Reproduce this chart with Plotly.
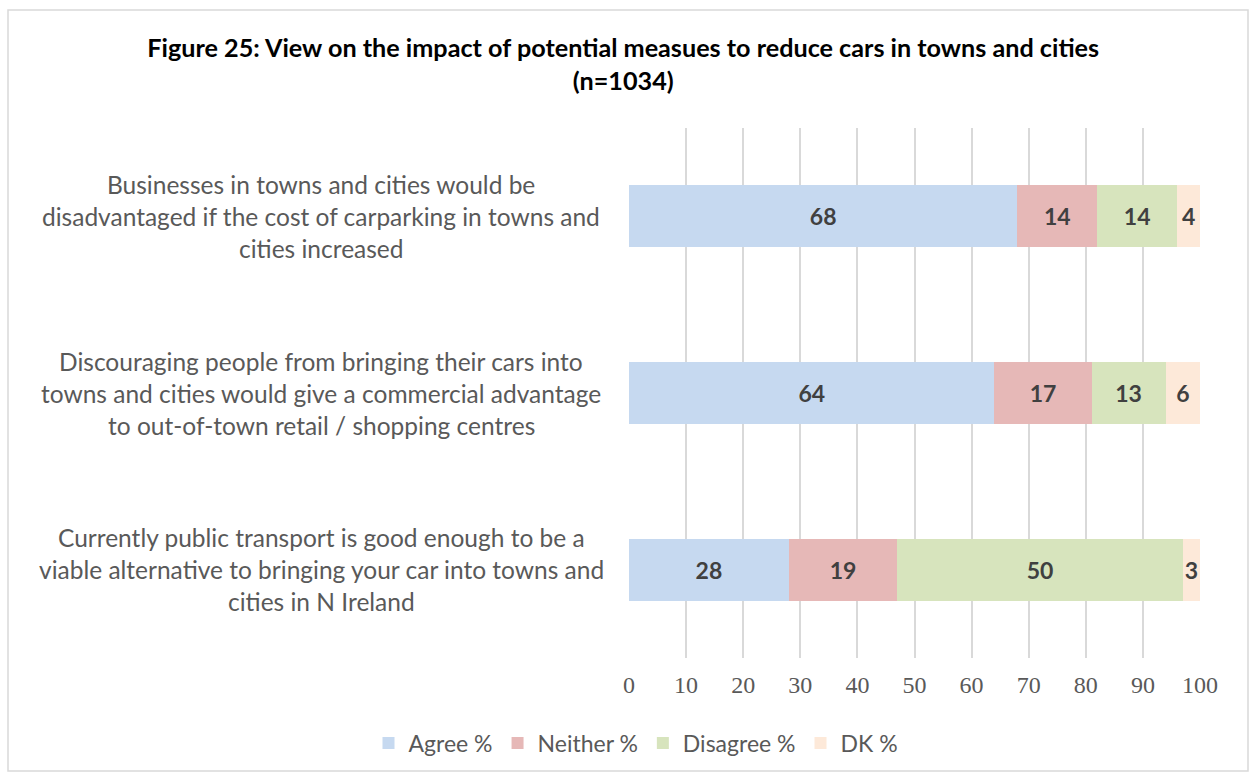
import plotly.graph_objects as go

# Survey statements (bottom to top as drawn on the y axis)
statements = [
    "Currently public transport is good enough to be a<br>viable alternative to bringing your car into towns and<br>cities in N Ireland",
    "Discouraging people from bringing their cars into<br>towns and cities would give a commercial advantage<br>to out-of-town retail / shopping centres",
    "Businesses in towns and cities would be<br>disadvantaged if the cost of carparking in towns and<br>cities increased",
]
agree = [28, 64, 68]
neither = [19, 17, 14]
disagree = [50, 13, 14]
dont_know = [3, 6, 4]

series = [
    ("Agree %", agree, "#C6D9F0"),
    ("Neither %", neither, "#E6B8B7"),
    ("Disagree %", disagree, "#D7E4BD"),
    ("DK %", dont_know, "#FDE9D9"),
]

x_ticks = list(range(0, 101, 10))

W, H = 1254, 776
L, R, T, B = 629, 1200, 128, 658


def px_to_paper_x(px):
    return (px - L) / (R - L)


def px_to_paper_y(py):
    return (B - py) / (B - T)


fig = go.Figure()
for name, vals, color in series:
    fig.add_trace(go.Bar(
        y=statements, x=vals, name=name, orientation="h",
        marker=dict(color=color, line=dict(width=0)),
        text=[str(v) for v in vals], textposition="inside",
        insidetextanchor="middle", constraintext="none",
        textfont=dict(family="Lato", size=23, color="#404040", weight="bold"),
        cliponaxis=False,
    ))

# Category labels as centred multi-line text blocks left of the plot
for s in statements:
    lines = s.split("<br>")
    n = len(lines)
    for i, ln in enumerate(lines):
        fig.add_annotation(
            x=px_to_paper_x(321), y=s, xref="paper", yref="y",
            text=ln, showarrow=False, xanchor="center", align="center",
            yshift=(n - 1) / 2 * 32 - i * 32,
            font=dict(family="Lato", size=24.5, color="#595959"),
        )

# Outer chart frame
fig.add_shape(type="rect", xref="paper", yref="paper",
              x0=px_to_paper_x(8), x1=px_to_paper_x(1248),
              y0=px_to_paper_y(771), y1=px_to_paper_y(10),
              line=dict(color="#D9D9D9", width=1.5), fillcolor="rgba(0,0,0,0)",
              layer="below")

fig.update_layout(
    width=W, height=H,
    margin=dict(l=L, r=W - R, t=T, b=H - B, autoexpand=False),
    barmode="stack", bargap=0.648,
    plot_bgcolor="white", paper_bgcolor="white",
    title=dict(
        text="<b>Figure 25: View on the impact of potential measues to reduce cars in towns and cities<br>(n=1034)</b>",
        x=0.497, xref="container", xanchor="center",
        y=1 - 57 / H, yref="container", yanchor="top",
        font=dict(family="Lato", size=25.2, color="#000000"),
    ),
    xaxis=dict(
        range=[0, 100], tickvals=x_ticks, ticktext=[str(v) for v in x_ticks],
        showgrid=True, gridcolor="#D9D9D9", gridwidth=1.5,
        zeroline=False, showline=False, ticks="",
        tickfont=dict(family="Liberation Serif", size=24, color="#595959"),
        ticklabelstandoff=10,
    ),
    yaxis=dict(showticklabels=False, showgrid=False, zeroline=False,
               showline=False, ticks=""),
    showlegend=True,
    legend=dict(
        orientation="h", x=px_to_paper_x(636), xanchor="center",
        y=px_to_paper_y(743), yanchor="middle",
        font=dict(family="Lato", size=23, color="#595959"),
        itemwidth=30, traceorder="normal",
    ),
    uniformtext=dict(mode=False),
)

fig.write_html("out.html")
